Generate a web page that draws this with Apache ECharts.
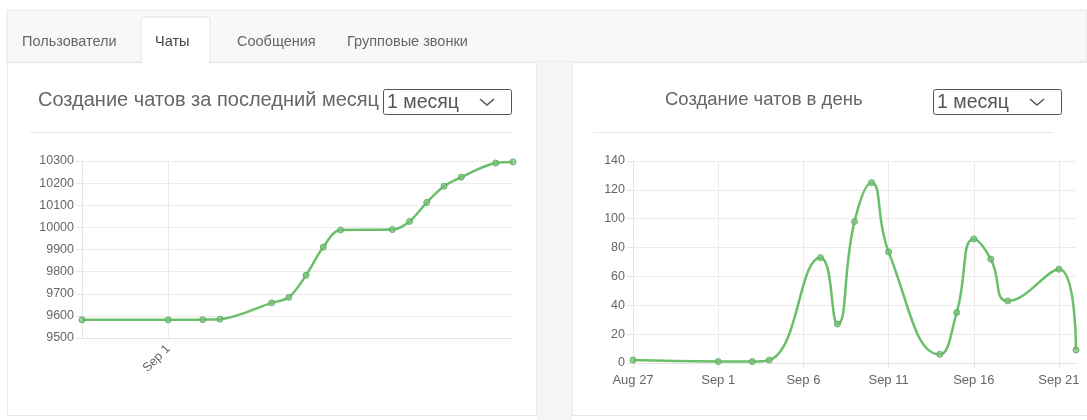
<!DOCTYPE html>
<html>
<head>
<meta charset="utf-8">
<title>Чаты</title>
<script src="https://cdn.jsdelivr.net/npm/echarts@6/dist/echarts.min.js"></script>
<style>
  html, body { margin: 0; padding: 0; background: #ffffff; }
  #chart { width: 1087px; height: 420px; }
</style>
</head>
<body>
<div id="chart"></div>
<script>
// Cumulative number of chats
const totalDates = ['2018-08-27', '2018-09-01', '2018-09-03', '2018-09-04', '2018-09-07', '2018-09-08',
  '2018-09-09', '2018-09-10', '2018-09-11', '2018-09-14', '2018-09-15', '2018-09-16',
  '2018-09-17', '2018-09-18', '2018-09-20', '2018-09-21'];
const totalValues = [9582, 9582, 9583, 9585, 9659, 9684, 9784, 9911, 9988, 9990, 10027, 10113,
  10186, 10227, 10291, 10296];
const totalTickDates = ['2018-09-01'];

// Chats created per day
const dailyDates = ['2018-08-27', '2018-09-01', '2018-09-03', '2018-09-04', '2018-09-07', '2018-09-08',
  '2018-09-09', '2018-09-10', '2018-09-11', '2018-09-14', '2018-09-15', '2018-09-16',
  '2018-09-17', '2018-09-18', '2018-09-21', '2018-09-22'];
const dailyValues = [2, 1, 1, 2, 73, 27, 98, 125, 77, 6, 35, 86, 72, 43, 65, 9];
const dailyTickDates = ['2018-08-27', '2018-09-01', '2018-09-06', '2018-09-11', '2018-09-16', '2018-09-21'];

const tabs = ['Пользователи', 'Чаты', 'Сообщения', 'Групповые звонки'];
const totalTitle = 'Создание чатов за последний месяц';
const dailyTitle = 'Создание чатов в день';
const periodLabel = '1 месяц';

// x values are whole days counted from the first date
const DAY = 86400000;
const BASE = Date.parse('2018-08-27T00:00:00Z');
const MONTHS = ['Jan', 'Feb', 'Mar', 'Apr', 'May', 'Jun', 'Jul', 'Aug', 'Sep', 'Oct', 'Nov', 'Dec'];
const dayOf = s => Math.round((Date.parse(s + 'T00:00:00Z') - BASE) / DAY);
const fmtDay = d => {
  const dt = new Date(BASE + d * DAY);
  return MONTHS[dt.getUTCMonth()] + ' ' + dt.getUTCDate();
};
const pairs = (dates, vals) => dates.map((s, i) => [dayOf(s), vals[i]]);

const FONT = 'Liberation Sans, Arial, sans-serif';
const GREEN = '#6abf6a';
const GRIDC = '#ebebeb';

const chart = echarts.init(document.getElementById('chart'), null, { renderer: 'canvas' });

function yAxisCfg(gridIndex, min, max, interval) {
  return {
    type: 'value', gridIndex, min, max, interval,
    axisLine: { show: true, lineStyle: { color: '#e4e4e4' } },
    axisTick: { show: true, length: 6, lineStyle: { color: '#e4e4e4' } },
    axisLabel: { color: '#666', fontSize: 12.5, fontFamily: FONT, margin: 8, formatter: v => String(v) },
    splitLine: { show: true, lineStyle: { color: GRIDC } }
  };
}

function lineSeries(xi, yi, data, smooth) {
  return {
    type: 'line', xAxisIndex: xi, yAxisIndex: yi, data, smooth,
    symbol: 'circle', symbolSize: 6, showSymbol: true,
    lineStyle: { color: GREEN, width: 2.5 },
    itemStyle: { color: 'rgba(120,190,120,0.7)', borderColor: '#62b065', borderWidth: 1 },
    animation: false
  };
}

// tab bar pieces
const tabX = [22, 155, 237, 347];
const graphics = [
  // tab strip
  { type: 'rect', z: -20, shape: { x: 7, y: 10, width: 1080, height: 52 },
    style: { fill: '#f7f8fa', stroke: '#e3e5e8', lineWidth: 1 } },
  // active tab
  { type: 'rect', z: -15, shape: { x: 141, y: 17, width: 69, height: 46, r: [3, 3, 0, 0] },
    style: { fill: '#ffffff', stroke: '#e3e5e8', lineWidth: 1 } },
  { type: 'rect', z: -14, shape: { x: 142, y: 60, width: 67, height: 4 }, style: { fill: '#ffffff' } },
  // gap between the two panels
  { type: 'rect', z: -20, shape: { x: 537, y: 62, width: 35, height: 358 }, style: { fill: '#f4f5f7' } },
  // left panel
  { type: 'rect', z: -19, shape: { x: 7.5, y: 62.5, width: 529, height: 353 },
    style: { fill: '#ffffff', stroke: '#e6e7ea', lineWidth: 1 } },
  // right panel
  { type: 'rect', z: -19, shape: { x: 572.5, y: 62.5, width: 520, height: 353 },
    style: { fill: '#ffffff', stroke: '#e6e7ea', lineWidth: 1 } },
  // separators under the titles
  { type: 'line', z: -5, shape: { x1: 30, y1: 132.5, x2: 513, y2: 132.5 }, style: { stroke: '#e8e8e8', lineWidth: 1 } },
  { type: 'line', z: -5, shape: { x1: 593, y1: 132.5, x2: 1053, y2: 132.5 }, style: { stroke: '#e8e8e8', lineWidth: 1 } },
  // titles
  { type: 'text', x: 38, y: 100, style: { text: totalTitle, fill: '#666', font: '20px ' + FONT, textVerticalAlign: 'middle' } },
  { type: 'text', x: 665, y: 100, style: { text: dailyTitle, fill: '#666', font: '18.5px ' + FONT, textVerticalAlign: 'middle' } }
];
tabs.forEach((t, i) => {
  graphics.push({ type: 'text', x: tabX[i], y: 42,
    style: { text: t, fill: i === 1 ? '#444' : '#666', font: '14.5px ' + FONT, textVerticalAlign: 'middle' } });
});
// period selectors
[[383, 89], [933, 89]].forEach(([x, y]) => {
  graphics.push({ type: 'rect', shape: { x: x + 0.5, y: y + 0.5, width: 128, height: 25, r: 2 },
    style: { fill: '#fff', stroke: '#555', lineWidth: 1 } });
  graphics.push({ type: 'text', x: x + 4, y: y + 14, style: { text: periodLabel, fill: '#555', font: '19.5px ' + FONT, textVerticalAlign: 'middle' } });
  graphics.push({ type: 'polyline', shape: { points: [[x + 97, y + 10], [x + 104, y + 16], [x + 111, y + 10]] },
    style: { stroke: '#555', lineWidth: 1.6, fill: null } });
});

const option = {
  backgroundColor: '#ffffff',
  animation: false,
  grid: [
    { left: 82, right: 574, top: 161, bottom: 82, outerBoundsMode: 'none' },
    { left: 633, right: 11, top: 161, bottom: 57, outerBoundsMode: 'none' }
  ],
  xAxis: [
    {
      type: 'value', gridIndex: 0, min: 0, max: dayOf('2018-09-21'),
      axisLine: { show: true, lineStyle: { color: '#e4e4e4' } },
      axisTick: { show: false, customValues: totalTickDates.map(dayOf) },
      axisLabel: { customValues: totalTickDates.map(dayOf), formatter: fmtDay, rotate: 45,
        color: '#666', fontSize: 12.5, fontFamily: FONT, margin: 9 },
      splitLine: { show: true, lineStyle: { color: GRIDC } }
    },
    {
      type: 'value', gridIndex: 1, min: 0, max: dayOf('2018-09-22'),
      axisLine: { show: true, lineStyle: { color: '#e4e4e4' } },
      axisTick: { show: true, length: 5, lineStyle: { color: '#e4e4e4' }, customValues: dailyTickDates.map(dayOf) },
      axisLabel: { customValues: dailyTickDates.map(dayOf), formatter: fmtDay,
        color: '#666', fontSize: 13, fontFamily: FONT, margin: 11 },
      splitLine: { show: true, lineStyle: { color: GRIDC } }
    }
  ],
  yAxis: [
    yAxisCfg(0, 9500, 10300, 100),
    yAxisCfg(1, 0, 140, 20)
  ],
  series: [
    lineSeries(0, 0, pairs(totalDates, totalValues), 0.35),
    lineSeries(1, 1, pairs(dailyDates, dailyValues), 0.5)
  ],
  graphic: { elements: graphics }
};

chart.setOption(option);
</script>
</body>
</html>
